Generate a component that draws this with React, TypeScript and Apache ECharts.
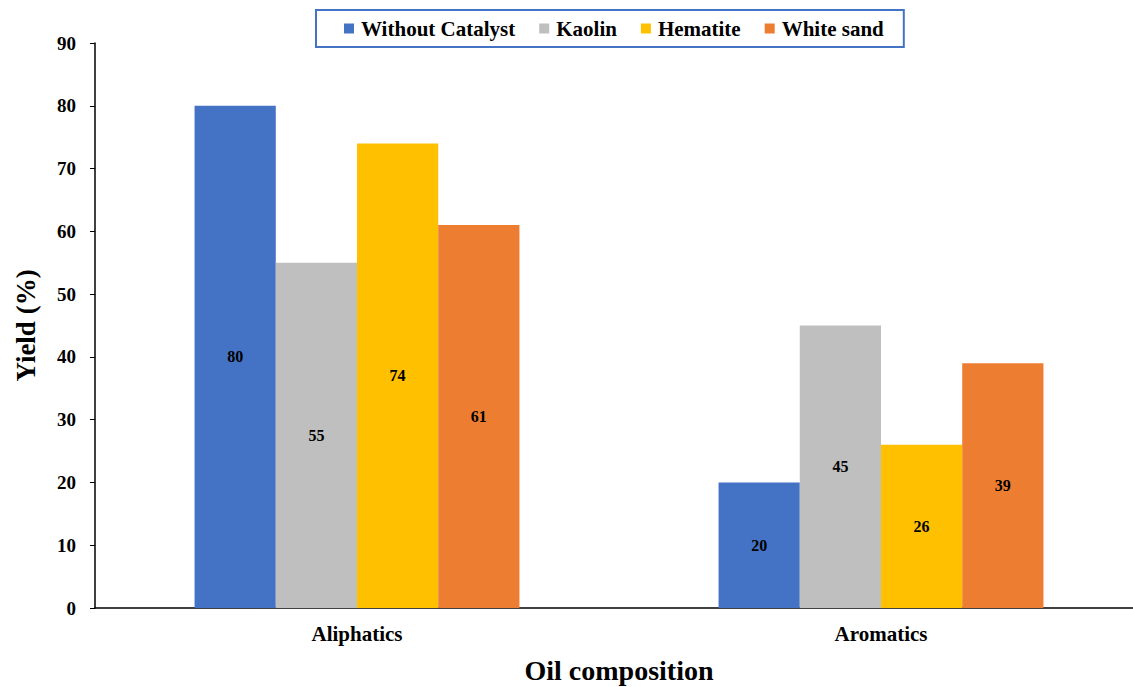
import React, { useEffect, useRef } from "react";
import * as echarts from "echarts";

const categories = ["Aliphatics", "Aromatics"];
const seriesNames = ["Without Catalyst", "Kaolin", "Hematite", "White sand"];
const withoutCatalyst = [80, 20];
const kaolin = [55, 45];
const hematite = [74, 26];
const whiteSand = [61, 39];
const colors = ["#4472C4", "#BFBFBF", "#FFC000", "#ED7D31"];
const yTicks = { min: 0, max: 90, interval: 10 };

const FONT = "'Liberation Serif', 'Times New Roman', serif";

export default function App() {
  const ref = useRef<HTMLDivElement>(null);

  useEffect(() => {
    if (!ref.current) return;
    const chart = echarts.init(ref.current, undefined, { renderer: "svg" });
    const values = [withoutCatalyst, kaolin, hematite, whiteSand];
    chart.setOption({
      animation: false,
      color: colors,
      textStyle: { fontFamily: FONT },
      legend: {
        data: seriesNames,
        left: 316,
        top: 10,
        itemWidth: 10,
        itemHeight: 10,
        itemGap: 24,
        icon: "rect",
        borderColor: "#4472C4",
        borderWidth: 2,
        padding: [8, 20, 8, 28],
        textStyle: {
          fontFamily: FONT,
          fontWeight: "bold",
          fontSize: 21,
          color: "#000",
          padding: [0, 0, 0, 2],
        },
      },
      grid: {
        left: 95,
        right: -10,
        top: 43,
        bottom: 79,
        containLabel: false,
        outerBoundsMode: "none",
      },
      xAxis: {
        type: "category",
        data: categories,
        name: "Oil composition",
        nameLocation: "middle",
        nameGap: 48,
        nameTextStyle: { fontFamily: FONT, fontWeight: "bold", fontSize: 28, color: "#000" },
        axisLine: { lineStyle: { color: "#000", width: 1.5 } },
        axisTick: { show: false },
        axisLabel: { fontFamily: FONT, fontWeight: "bold", fontSize: 21, color: "#000", margin: 15 },
      },
      yAxis: {
        type: "value",
        min: yTicks.min,
        max: yTicks.max,
        interval: yTicks.interval,
        name: "Yield (%)",
        nameLocation: "middle",
        nameGap: 56,
        nameTextStyle: { fontFamily: FONT, fontWeight: "bold", fontSize: 27, color: "#000" },
        axisLine: { show: true, lineStyle: { color: "#000", width: 1.5 } },
        axisTick: { show: true, length: 5, lineStyle: { color: "#000" } },
        axisLabel: { fontFamily: FONT, fontWeight: "bold", fontSize: 19, color: "#000", margin: 19 },
        splitLine: { show: false },
      },
      series: seriesNames.map((name, i) => ({
        name,
        type: "bar",
        data: values[i],
        barGap: "0%",
        barCategoryGap: "38%",
        label: {
          show: true,
          position: "inside",
          fontFamily: FONT,
          fontWeight: "bold",
          fontSize: 16,
          color: "#000",
        },
      })),
    });
    return () => chart.dispose();
  }, []);

  return (
    <div
      ref={ref}
      style={{ position: "fixed", left: 0, top: 0, width: 1133, height: 687, background: "#fff" }}
    />
  );
}
